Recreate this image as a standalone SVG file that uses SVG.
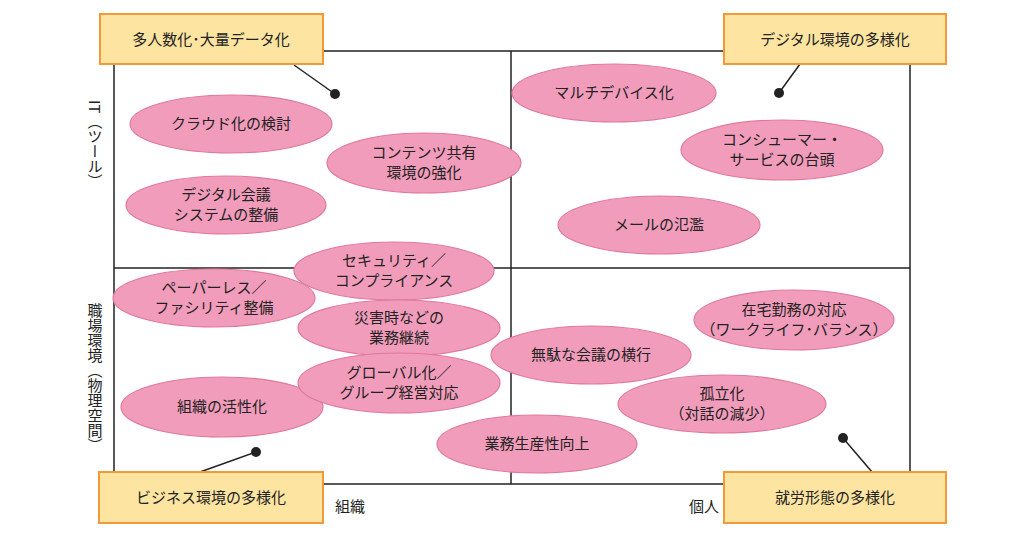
<svg xmlns="http://www.w3.org/2000/svg" width="1030" height="540" viewBox="0 0 1030 540">
<style>
text{font-family:"Noto Sans CJK JP","Noto Sans CJK SC",sans-serif;font-size:15px;fill:#222;text-anchor:middle}
.e{fill:#f19cba;stroke:#e0789c;stroke-width:1.2}
.b{fill:#fde4a0;stroke:#f09a3a;stroke-width:2}
.l{stroke:#222;stroke-width:1.5;fill:none}
.v{writing-mode:vertical-rl;font-size:15px}
</style>
<rect width="1030" height="540" fill="#fff"/>
<g id="frame" class="l">
<rect x="114" y="51" width="796" height="433"/>
<line x1="511" y1="51" x2="511" y2="484"/>
<line x1="114" y1="268" x2="910" y2="268"/>
</g>
<g id="connectors" class="l">
<line x1="294" y1="65" x2="335" y2="94"/>
<line x1="800" y1="64" x2="779" y2="93"/>
<line x1="200" y1="472" x2="256" y2="452"/>
<line x1="872" y1="472" x2="843" y2="438"/>
<circle cx="335" cy="94" r="5" fill="#222" stroke="none"/>
<circle cx="779" cy="93" r="5" fill="#222" stroke="none"/>
<circle cx="256" cy="452" r="5" fill="#222" stroke="none"/>
<circle cx="843" cy="438" r="5" fill="#222" stroke="none"/>
</g>
<g id="b1"><rect class="b" x="100" y="14" width="223" height="50"/><text x="211" y="45">多人数化･大量データ化</text></g>
<g id="b2"><rect class="b" x="724" y="14" width="222" height="50"/><text x="835" y="45">デジタル環境の多様化</text></g>
<g id="b3"><rect class="b" x="99" y="472" width="224" height="51"/><text x="211" y="503">ビジネス環境の多様化</text></g>
<g id="b4"><rect class="b" x="724" y="472" width="222" height="51"/><text x="835" y="503">就労形態の多様化</text></g>
<g id="n1"><ellipse class="e" cx="231" cy="124" rx="101" ry="29"/><text x="231" y="129">クラウド化の検討</text></g>
<g id="n2"><ellipse class="e" cx="424" cy="163" rx="97" ry="30"/><text x="424" y="158">コンテンツ共有</text><text x="424" y="178">環境の強化</text></g>
<g id="n3"><ellipse class="e" cx="226" cy="205" rx="100" ry="29"/><text x="226" y="200">デジタル会議</text><text x="226" y="220">システムの整備</text></g>
<g id="n5"><ellipse class="e" cx="214" cy="298" rx="101" ry="29"/><text x="214" y="293">ペーパーレス／</text><text x="214" y="313">ファシリティ整備</text></g>
<g id="n4"><ellipse class="e" cx="394" cy="271" rx="100" ry="29"/><text x="394" y="266">セキュリティ／</text><text x="394" y="286">コンプライアンス</text></g>
<g id="n6"><ellipse class="e" cx="399" cy="328" rx="101" ry="28"/><text x="399" y="323">災害時などの</text><text x="399" y="343">業務継続</text></g>
<g id="n8"><ellipse class="e" cx="222" cy="407" rx="101" ry="30"/><text x="222" y="412">組織の活性化</text></g>
<g id="n7"><ellipse class="e" cx="399" cy="383" rx="101" ry="30"/><text x="399" y="378">グローバル化／</text><text x="399" y="398">グループ経営対応</text></g>
<g id="n10"><ellipse class="e" cx="591" cy="355" rx="100" ry="29"/><text x="591" y="360">無駄な会議の横行</text></g>
<g id="n9"><ellipse class="e" cx="537" cy="444" rx="100" ry="29"/><text x="537" y="449">業務生産性向上</text></g>
<g id="n11"><ellipse class="e" cx="614" cy="93" rx="102" ry="29"/><text x="614" y="98">マルチデバイス化</text></g>
<g id="n12"><ellipse class="e" cx="782" cy="150" rx="101" ry="30"/><text x="782" y="145">コンシューマー・</text><text x="782" y="165">サービスの台頭</text></g>
<g id="n13"><ellipse class="e" cx="659" cy="225" rx="101" ry="29"/><text x="659" y="230">メールの氾濫</text></g>
<g id="n14"><ellipse class="e" cx="794" cy="320" rx="100" ry="30"/><text x="794" y="315">在宅勤務の対応</text><text x="794" y="335">（ワークライフ･バランス）</text></g>
<g id="n15"><ellipse class="e" cx="722" cy="404" rx="104" ry="29"/><text x="722" y="399">孤立化</text><text x="722" y="419">（対話の減少）</text></g>
<g id="axes">
<text x="350" y="512">組織</text>
<text x="704" y="512">個人</text>
<text class="v" x="95" y="100" style="text-anchor:start">IT（ツール）</text>
<text class="v" x="95" y="303" style="text-anchor:start">職場環境（物理空間）</text>
</g>
</svg>
